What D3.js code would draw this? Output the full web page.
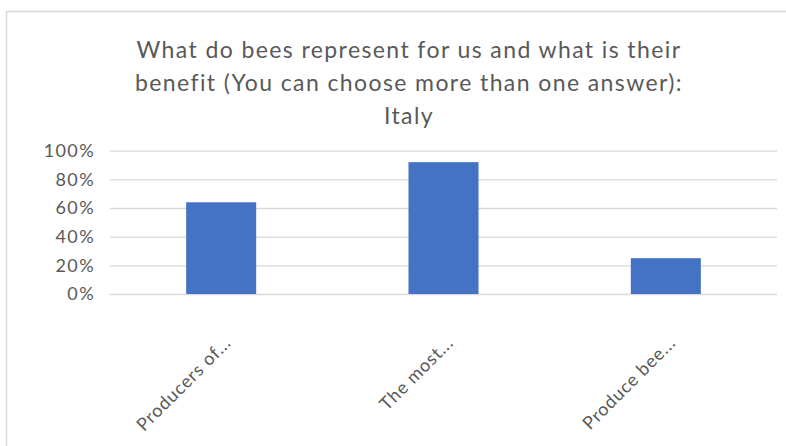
<!DOCTYPE html>
<html>
<head>
<meta charset="utf-8">
<script src="https://cdn.jsdelivr.net/npm/d3@7"></script>
<style>
  html, body { margin: 0; padding: 0; background: #fff; }
  svg { display: block; }
  text { font-family: Lato, "Open Sans", sans-serif; fill: #595959; }
</style>
</head>
<body>
<script>
// Survey answers (share of respondents, Italy)
const categories = ["Producers of...", "The most...", "Produce bee..."];
const values = [0.64, 0.92, 0.25];
const yTicks = [0, 0.2, 0.4, 0.6, 0.8, 1.0];
const titleLines = [
  "What do bees represent for us and what is their",
  "benefit (You can choose more than one answer):",
  "Italy"
];

const W = 786, H = 446;
const svg = d3.select("body").append("svg").attr("width", W).attr("height", H);

// chart frame
svg.append("rect")
  .attr("x", 6.5).attr("y", 11.5)
  .attr("width", W).attr("height", H)
  .attr("fill", "#fff").attr("stroke", "#d9d9d9").attr("stroke-width", 1.5);

const plot = { left: 110, right: 777, top: 150.7, bottom: 294 };

const x = d3.scaleBand()
  .domain(categories)
  .range([plot.left, plot.right])
  .paddingInner(0.685)
  .paddingOuter(0.3425);

const y = d3.scaleLinear().domain([0, 1]).range([plot.bottom, plot.top]);

// gridlines and value axis
const yAxis = d3.axisLeft(y)
  .tickValues(yTicks)
  .tickFormat(d3.format(".0%"))
  .tickSize(-(plot.right - plot.left))
  .tickPadding(15);

const gy = svg.append("g")
  .attr("transform", `translate(${plot.left},0)`)
  .call(yAxis);
gy.select(".domain").remove();
gy.selectAll(".tick line").attr("stroke", "#d9d9d9").attr("stroke-width", 1.3);
gy.selectAll(".tick text")
  .attr("font-size", 18)
  .attr("letter-spacing", 1.4)
  .attr("fill", "#595959")
  .style("font-family", "Lato, sans-serif");

// bars
svg.append("g").selectAll("rect")
  .data(categories)
  .join("rect")
  .attr("x", d => x(d))
  .attr("width", x.bandwidth())
  .attr("y", (d, i) => y(values[i]))
  .attr("height", (d, i) => y(0) - y(values[i]))
  .attr("fill", "#4472c4");

// category labels, rotated
svg.append("g").selectAll("text")
  .data(categories)
  .join("text")
  .attr("text-anchor", "end")
  .attr("font-size", 18)
  .attr("letter-spacing", 0.8)
  .attr("transform", d => `translate(${x(d) + x.bandwidth() / 2 + 11},${plot.bottom + 50}) rotate(-45)`)
  .text(d => d);

// title
svg.append("g").selectAll("text")
  .data(titleLines)
  .join("text")
  .attr("x", 409)
  .attr("y", (d, i) => 58 + i * 33)
  .attr("text-anchor", "middle")
  .attr("font-size", 23)
  .attr("letter-spacing", 1.4)
  .text(d => d);
</script>
</body>
</html>
